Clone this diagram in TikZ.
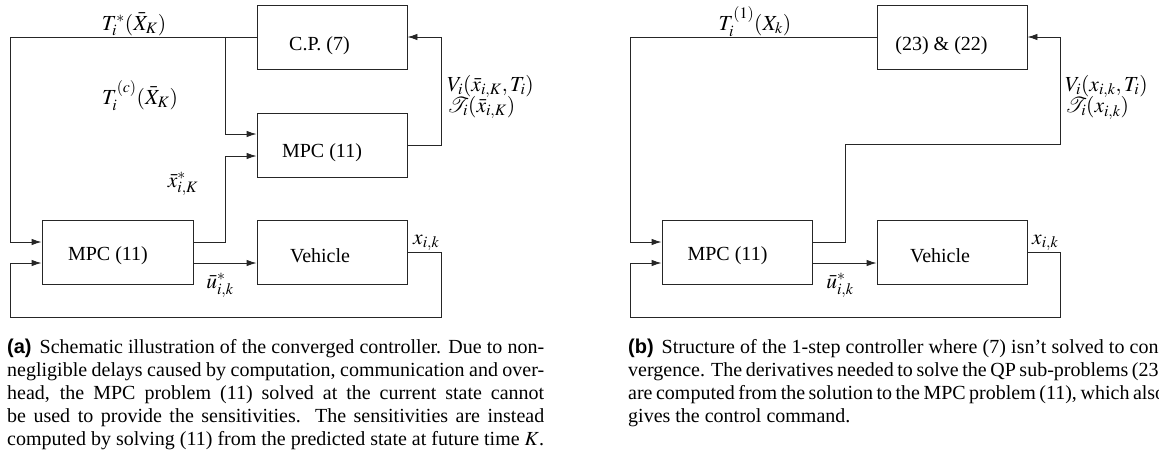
\documentclass[tikz,border=0pt]{standalone}
\usepackage{mathptmx}
\usepackage[no-math]{fontspec}
\setmainfont{Liberation Serif}
\setsansfont{Liberation Sans}
\usetikzlibrary{arrows.meta}
\newcommand{\capline}[1]{\makebox[537pt][s]{#1}}
\begin{document}
\begin{tikzpicture}[x=1pt,y=-1pt,
  box/.style={draw=black!85, line width=0.9pt, minimum width=150pt, minimum height=64pt, inner sep=0},
  txt/.style={inner sep=0, anchor=base, font=\fontsize{20}{24}\selectfont},
  lbl/.style={inner sep=0, anchor=base, font=\fontsize{21.5}{25}\selectfont},
  lblw/.style={inner sep=0, anchor=base west, font=\fontsize{21.5}{25}\selectfont},
  captxt/.style={inner sep=0, anchor=base west, font=\fontsize{20}{23}\selectfont},
  conn/.style={line width=0.9pt, draw=black!85},
  arr/.style={conn, -{Latex[length=10pt,width=6.5pt]}}]
\useasboundingbox (0,0) rectangle (1159,456);

% ---------- left panel ----------
\node[box] (cp) at (332,37) {};
\node[box] (mpcm) at (332,145.5) {};
\node[box, minimum width=151pt] (mpcl) at (117.5,252.5) {};
\node[box] (vehl) at (332,252.5) {};

\node[txt] (tcp) at (319.5,50) {C.P. (7)};
\node[txt] (tmpcm) at (322,157) {MPC (11)};
\node[txt] (tmpcl) at (108,260) {MPC (11)};
\node[txt] (tvehl) at (320,262) {Vehicle};

\coordinate (a1) at (10,37);
\coordinate (a2) at (10,242);
\coordinate (a3) at (225,37);
\coordinate (a4) at (225,134);
\coordinate (a5) at (225,242);
\coordinate (a6) at (225,156);
\coordinate (a7) at (441,145.5);
\coordinate (a8) at (441,37);
\coordinate (a9) at (441,252.5);
\coordinate (a10) at (441,317);
\coordinate (a11) at (10,317);
\coordinate (a12) at (10,263);

\draw[arr] (cp.west) -- (a1) -- (a2) -- ([yshift=10.5pt]mpcl.west);
\draw[arr] (a3) -- (a4) -- ([yshift=11.5pt]mpcm.west);
\draw[arr] ([yshift=10.5pt]mpcl.east) -- (a5) -- (a6) -- ([yshift=-10.5pt]mpcm.west);
\draw[arr] ([yshift=-10.5pt]mpcl.east) -- ([yshift=-10.5pt]vehl.west);
\draw[arr] (mpcm.east) -- (a7) -- (a8) -- (cp.east);
\draw[arr] (vehl.east) -- (a9) -- (a10) -- (a11) -- (a12) -- ([yshift=-10.5pt]mpcl.west);

\node[lbl] (l1) at (134,30) {$T_i^*(\bar X_K)$};
\node[lbl] (l2) at (140,104) {$T_i^{(c)}(\bar X_K)$};
\node[lblw] (l3) at (447,91) {$V_i(\bar x_{i,K},T_i)$};
\node[lblw] (l4) at (447,112.5) {$\mathcal{T}_i(\bar x_{i,K})$};
\node[lbl] (l5) at (183,187) {$\bar x^*_{i,K}$};
\node[lbl] (l6) at (220,288) {$\bar u^*_{i,k}$};
\node[lblw] (l7) at (413,244) {$x_{i,k}$};

% ---------- right panel ----------
\node[box] (qp) at (952,37) {};
\node[box] (mpcr) at (737,252.5) {};
\node[box] (vehr) at (952,252.5) {};

\node[txt] (tqp) at (941.5,50) {(23) \& (22)};
\node[txt] (tmpcr) at (727.5,260) {MPC (11)};
\node[txt] (tvehr) at (940,262) {Vehicle};

\coordinate (b1) at (630,37);
\coordinate (b2) at (630,242);
\coordinate (b3) at (845,242);
\coordinate (b4) at (845,144);
\coordinate (b5) at (1060,144);
\coordinate (b6) at (1060,37);
\coordinate (b7) at (1060,252.5);
\coordinate (b8) at (1060,317);
\coordinate (b9) at (630,317);
\coordinate (b10) at (630,263);

\draw[arr] (qp.west) -- (b1) -- (b2) -- ([yshift=10.5pt]mpcr.west);
\draw[arr] ([yshift=10.5pt]mpcr.east) -- (b3) -- (b4) -- (b5) -- (b6) -- (qp.east);
\draw[arr] ([yshift=-10.5pt]mpcr.east) -- ([yshift=-10.5pt]vehr.west);
\draw[arr] (vehr.east) -- (b7) -- (b8) -- (b9) -- (b10) -- ([yshift=-10.5pt]mpcr.west);

\node[lbl] (r1) at (755,30) {$T_i^{(1)}(X_k)$};
\node[lblw] (r2) at (1065,91) {$V_i(x_{i,k},T_i)$};
\node[lblw] (r3) at (1065,112.5) {$\mathcal{T}_i(x_{i,k})$};
\node[lbl] (r4) at (840,288) {$\bar u^*_{i,k}$};
\node[lblw] (r5) at (1032,244) {$x_{i,k}$};

% ---------- captions ----------
\node[captxt] (ca1) at (7,353) {\capline{\textsf{\bfseries (a)}\hspace*{8pt}Schematic illustration of the converged controller. Due to non-}};
\node[captxt] (ca2) at (7,376) {\capline{negligible delays caused by computation, communication and over-}};
\node[captxt] (ca3) at (7,399) {\capline{head, the MPC problem (11) solved at the current state cannot}};
\node[captxt] (ca4) at (7,422) {\capline{be used to provide the sensitivities. The sensitivities are instead}};
\node[captxt] (ca5) at (7,445) {computed by solving (11) from the predicted state at future time $K$.};

\node[captxt] (cb1) at (628,353) {\capline{\textsf{\bfseries (b)}\hspace*{8pt}Structure of the 1-step controller where (7) isn't solved to con-}};
\node[captxt] (cb2) at (628,376) {\capline{vergence. The derivatives needed to solve the QP sub-problems (23)}};
\node[captxt] (cb3) at (628,399) {\capline{are computed from the solution to the MPC problem (11), which also}};
\node[captxt] (cb4) at (628,422) {gives the control command.};
\end{tikzpicture}
\end{document}
